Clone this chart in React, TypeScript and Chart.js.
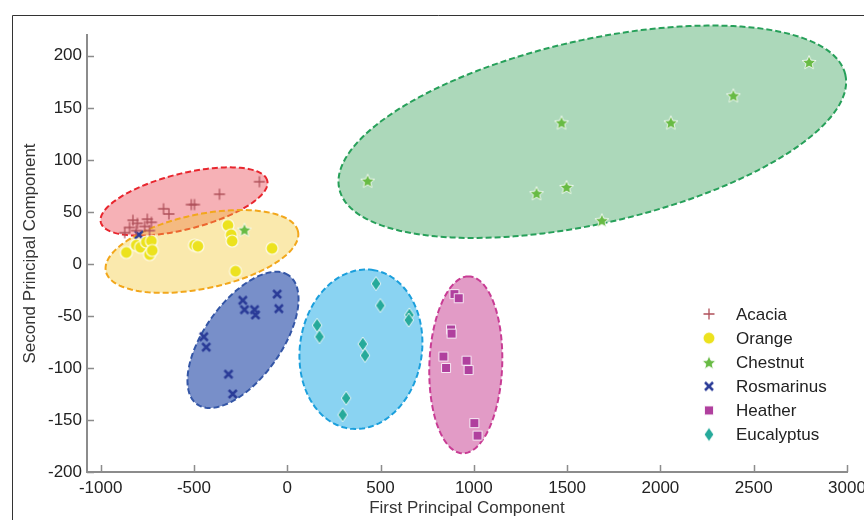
import React, { useEffect, useRef } from 'react';
import { Chart, registerables } from 'chart.js';

Chart.register(...registerables);

// ---------- data ----------
const seriesNames = ['Acacia', 'Orange', 'Chestnut', 'Rosmarinus', 'Heather', 'Eucalyptus'];

const acaciaX = [-149, -363, -514, -497, -663, -634, -827, -750, -728, -845, -803, -764, -871, -738, -809];
const acaciaY = [79, 67, 57, 57, 53, 48, 42, 43, 40, 35, 39, 36, 30, 32, 32];

const orangeX = [-862, -809, -786, -755, -728, -738, -723, -497, -479, -318, -300, -295, -277, -81];
const orangeY = [11, 18, 16, 21, 22, 9, 13, 18, 17, 37, 28, 22, -7, 15];

const chestnutX = [431, 1336, 1497, 1470, 1686, 2056, 2391, 2797, -229];
const chestnutY = [80, 68, 74, 136, 42, 136, 162, 194, 33];

const rosmarinusX = [-238, -229, -175, -170, -54, -45, -447, -434, -315, -292, -795];
const rosmarinusY = [-35, -44, -44, -49, -29, -43, -70, -80, -106, -125, 28];

const heatherX = [896, 919, 878, 881, 837, 851, 961, 972, 1003, 1020];
const heatherY = [-29, -33, -63, -67, -89, -100, -93, -102, -153, -165];

const eucalyptusX = [476, 499, 655, 651, 160, 173, 405, 417, 316, 297];
const eucalyptusY = [-19, -40, -49, -54, -59, -70, -77, -88, -129, -145];

const xTickValues = [-1000, -500, 0, 500, 1000, 1500, 2000, 2500, 3000];
const yTickValues = [-200, -150, -100, -50, 0, 50, 100, 150, 200];

// cluster regions (data units): centre and two conjugate semi-axis vectors
const regionCX = [-553, -457, 1635, -237, 957, 395];
const regionCY = [60, 12, 127, -73, -97, -82];
const regionUX = [446, 515, 1356, 245, 17, 70];
const regionUY = [20, 19, 55, 62, 85, 76];
const regionVX = [-36, -40, -109, -169, -195, -322];
const regionVY = [26, 35, 86, 21, 1, 10];

// ---------- styles ----------
const markerKinds = ['plus', 'circle', 'star', 'x', 'square', 'diamond'];
const markerColors = ['#b0505a', '#ece21e', '#68bb44', '#2b3c98', '#b0409e', '#26aa9b'];
const regionFills = [
  'rgba(232,60,72,0.40)',
  'rgba(242,200,50,0.40)',
  'rgba(89,177,117,0.50)',
  'rgba(62,96,178,0.70)',
  'rgba(207,88,160,0.60)',
  'rgba(60,182,233,0.60)',
];
const regionStrokes = ['#e8262e', '#f2a71c', '#27a05a', '#3456a6', '#c83c94', '#1b9fdc'];

const FONT = "'Liberation Sans', Arial, sans-serif";
const FS = 17;

function makeMarker(kind: string, color: string): HTMLCanvasElement {
  const c = document.createElement('canvas');
  const S = 20;
  c.width = S;
  c.height = S;
  const g = c.getContext('2d')!;
  const m = S / 2;
  g.lineJoin = 'round';
  const halo = 'rgba(255,255,255,0.85)';
  switch (kind) {
    case 'plus':
      g.strokeStyle = color;
      g.lineWidth = 1.3;
      g.beginPath();
      g.moveTo(m - 5.5, m);
      g.lineTo(m + 5.5, m);
      g.moveTo(m, m - 5.5);
      g.lineTo(m, m + 5.5);
      g.stroke();
      break;
    case 'circle':
      g.beginPath();
      g.arc(m, m, 6, 0, Math.PI * 2);
      g.fillStyle = color;
      g.fill();
      g.strokeStyle = halo;
      g.lineWidth = 1.2;
      g.stroke();
      break;
    case 'star': {
      g.beginPath();
      for (let k = 0; k < 10; k++) {
        const r = k % 2 === 0 ? 7.3 : 3.3;
        const a = -Math.PI / 2 + (k * Math.PI) / 5;
        const px = m + r * Math.cos(a);
        const py = m + 0.8 + r * Math.sin(a);
        if (k === 0) g.moveTo(px, py);
        else g.lineTo(px, py);
      }
      g.closePath();
      g.fillStyle = color;
      g.fill();
      g.strokeStyle = halo;
      g.lineWidth = 1;
      g.stroke();
      break;
    }
    case 'x':
      g.strokeStyle = color;
      g.lineWidth = 2.5;
      g.beginPath();
      g.moveTo(m - 4, m - 4);
      g.lineTo(m + 4, m + 4);
      g.moveTo(m + 4, m - 4);
      g.lineTo(m - 4, m + 4);
      g.stroke();
      break;
    case 'square':
      g.fillStyle = color;
      g.fillRect(m - 4.5, m - 4.5, 9, 9);
      g.strokeStyle = halo;
      g.lineWidth = 1;
      g.strokeRect(m - 4.5, m - 4.5, 9, 9);
      break;
    case 'diamond':
      g.beginPath();
      g.moveTo(m, m - 7);
      g.lineTo(m + 4.8, m);
      g.lineTo(m, m + 7);
      g.lineTo(m - 4.8, m);
      g.closePath();
      g.fillStyle = color;
      g.fill();
      g.strokeStyle = halo;
      g.lineWidth = 1;
      g.stroke();
      break;
  }
  return c;
}

const seriesX = [acaciaX, orangeX, chestnutX, rosmarinusX, heatherX, eucalyptusX];
const seriesY = [acaciaY, orangeY, chestnutY, rosmarinusY, heatherY, eucalyptusY];

export default function App() {
  const ref = useRef<HTMLCanvasElement>(null);

  useEffect(() => {
    const canvas = ref.current;
    if (!canvas) return;
    const markers = markerKinds.map((k, i) => makeMarker(k, markerColors[i]));

    const regionsPlugin = {
      id: 'regions',
      beforeDatasetsDraw(chart: any) {
        const { ctx } = chart;
        const xs = chart.scales.x;
        const ys = chart.scales.y;
        ctx.save();
        for (let r = 0; r < regionCX.length; r++) {
          ctx.beginPath();
          const N = 160;
          for (let k = 0; k <= N; k++) {
            const t = (2 * Math.PI * k) / N;
            const X = regionCX[r] + Math.cos(t) * regionUX[r] + Math.sin(t) * regionVX[r];
            const Y = regionCY[r] + Math.cos(t) * regionUY[r] + Math.sin(t) * regionVY[r];
            const px = xs.getPixelForValue(X);
            const py = ys.getPixelForValue(Y);
            if (k === 0) ctx.moveTo(px, py);
            else ctx.lineTo(px, py);
          }
          ctx.closePath();
          ctx.fillStyle = regionFills[r];
          ctx.fill();
          ctx.setLineDash([6, 3]);
          ctx.lineWidth = 2;
          ctx.strokeStyle = regionStrokes[r];
          ctx.stroke();
        }
        ctx.restore();
      },
    };

    const decorPlugin = {
      id: 'decor',
      beforeDraw(chart: any) {
        const { ctx } = chart;
        ctx.save();
        ctx.strokeStyle = '#333';
        ctx.lineWidth = 1;
        ctx.beginPath();
        ctx.moveTo(12.5, 600);
        ctx.lineTo(12.5, 15.5);
        ctx.lineTo(900, 15.5);
        ctx.stroke();
        ctx.restore();
      },
      afterDraw(chart: any) {
        const { ctx, chartArea } = chart;
        const xs = chart.scales.x;
        const ys = chart.scales.y;
        ctx.save();
        // inward tick marks
        ctx.strokeStyle = '#8c8c8c';
        ctx.lineWidth = 1.5;
        ctx.beginPath();
        for (const v of xTickValues) {
          const px = Math.round(xs.getPixelForValue(v)) + 0.5;
          ctx.moveTo(px, chartArea.bottom);
          ctx.lineTo(px, chartArea.bottom - 7);
        }
        for (const v of yTickValues) {
          const py = Math.round(ys.getPixelForValue(v)) + 0.5;
          ctx.moveTo(chartArea.left, py);
          ctx.lineTo(chartArea.left + 7, py);
        }
        ctx.stroke();
        // legend
        const lx = 709;
        const ly = 314;
        const gap = 24.1;
        ctx.font = `${FS}px ${FONT}`;
        ctx.fillStyle = '#222';
        ctx.textBaseline = 'middle';
        ctx.textAlign = 'left';
        chart.data.datasets.forEach((ds: any, i: number) => {
          const y = ly + i * gap;
          const img = markers[i];
          ctx.drawImage(img, lx - img.width / 2, y - img.height / 2);
          ctx.fillText(ds.label, 736, y + 1);
        });
        ctx.restore();
      },
    };

    const chart = new Chart(canvas, {
      type: 'scatter',
      data: {
        datasets: seriesNames.map((name, i) => ({
          label: name,
          data: seriesX[i].map((x, j) => ({ x, y: seriesY[i][j] })),
          pointStyle: markers[i],
          pointRadius: 6,
          pointHoverRadius: 6,
          backgroundColor: markerColors[i],
          borderColor: markerColors[i],
          clip: false,
        })),
      },
      options: {
        animation: false,
        responsive: false,
        events: [],
        layout: { padding: { top: 35, right: 17, left: 0, bottom: 0 } },
        plugins: {
          legend: { display: false },
          tooltip: { enabled: false },
        },
        scales: {
          x: {
            type: 'linear',
            min: -1073,
            max: 3000,
            afterBuildTicks: (s: any) => {
              s.ticks = xTickValues.map((v) => ({ value: v }));
            },
            afterFit: (s: any) => {
              s.height = 48;
              s.paddingLeft = 0;
              s.paddingRight = 0;
            },
            grid: { display: false, drawTicks: false },
            border: { display: true, color: '#8c8c8c', width: 2 },
            ticks: {
              padding: 6,
              color: '#222',
              font: { family: FONT, size: FS },
              maxRotation: 0,
              autoSkip: false,
              callback: (v: any) => String(v),
            },
            title: {
              display: true,
              text: 'First Principal Component',
              color: '#333',
              font: { family: FONT, size: FS },
              padding: { top: 0, bottom: 1 },
            },
          },
          y: {
            type: 'linear',
            min: -200,
            max: 220,
            afterBuildTicks: (s: any) => {
              s.ticks = yTickValues.map((v) => ({ value: v }));
            },
            afterFit: (s: any) => {
              s.width = 87;
              s.paddingTop = 0;
              s.paddingBottom = 0;
            },
            grid: { display: false, drawTicks: false },
            border: { display: true, color: '#8c8c8c', width: 2 },
            ticks: {
              padding: 5,
              color: '#222',
              font: { family: FONT, size: FS },
              autoSkip: false,
              callback: (v: any) => String(v),
            },
            title: {
              display: true,
              text: 'Second Principal Component',
              color: '#333',
              font: { family: FONT, size: FS },
              padding: { top: 20, bottom: 0 },
            },
          },
        },
      },
      plugins: [regionsPlugin, decorPlugin],
    } as any);

    return () => chart.destroy();
  }, []);

  return (
    <canvas
      ref={ref}
      width={864}
      height={520}
      style={{ position: 'absolute', left: 0, top: 0, width: 864, height: 520, background: '#fff' }}
    />
  );
}
